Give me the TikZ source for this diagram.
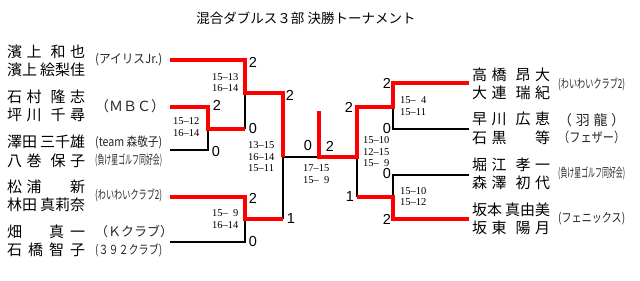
\documentclass[tikz,border=0pt]{standalone}
\usepackage{fontspec}
\usepackage{graphicx}
\setmainfont{Liberation Serif}
\newfontfamily\jfont{Noto Sans CJK JP}
\newfontfamily\numfont{Liberation Sans}
\usetikzlibrary{positioning}

% 選手名（均等割り付け）とチーム名（横に圧縮）
\newcommand{\pn}[1]{\makebox[78pt][s]{#1}}
\newcommand{\tm}[1]{\resizebox{67pt}{\height}{#1}}
\newcommand{\tmsp}[1]{\makebox[67pt][s]{#1}}

\begin{document}
\begin{tikzpicture}[x=1pt, y=-1pt,
    % 選手ペア
    pair/.style={
        anchor=west,
        inner sep=0pt,
        align=left,
        font=\jfont\fontsize{15}{18.5}\selectfont
    },
    % 所属チーム
    team/.style={
        anchor=west,
        inner sep=0pt,
        text=black!85,
        font=\jfont\fontsize{12.5}{12.5}\selectfont
    },
    % スコア
    score/.style={
        anchor=west,
        inner sep=0pt,
        align=left,
        font=\fontsize{10.5}{11.5}\selectfont
    },
    % 勝ちセット数
    result/.style={inner sep=0pt, font=\numfont\fontsize{14.5}{14.5}\selectfont},
    % 線
    win/.style={draw=red, line width=4pt},
    lose/.style={draw=black, line width=1.3pt}
]
\useasboundingbox (0,0) rectangle (640,281);

% タイトル
\node[font=\jfont\fontsize{13.5}{13.5}\selectfont] (title) at (306,18) {混合ダブルス３部 決勝トーナメント};

% 左ブロック
\node[pair] (p1) at (7,61) {\pn{濱\hfill 上\hfill\hfill 和\hfill 也}\\\pn{濱上\hfill 絵梨佳}};
\node[pair] (p2) at (7,106) {\pn{石\hfill 村\hfill\hfill 隆\hfill 志}\\\pn{坪\hfill 川\hfill\hfill 千\hfill 尋}};
\node[pair] (p3) at (7,151.5) {\pn{澤田\hfill 三千雄}\\\pn{八\hfill 巻\hfill\hfill 保\hfill 子}};
\node[pair] (p4) at (7,196) {\pn{松\hfill 浦\hfill\hfill\phantom{新}\hfill 新}\\\pn{林田\hfill 真莉奈}};
\node[pair] (p5) at (7,241) {\pn{畑\hfill\phantom{橋}\hfill 真\hfill 一}\\\pn{石\hfill 橋\hfill 智\hfill 子}};

\node[team] (t1) at (95,60) {\tm{(アイリスJr.)}};
\node[team, font=\jfont\fontsize{14}{14}\selectfont] (t2) at (95,106) {\tmsp{（\hfill ＭＢＣ\hfill ）}};
\node[team] (t3a) at (95,142) {\tm{(team 森敬子)}};
\node[team] (t3b) at (95,160) {\tm{(負け星ゴルフ同好会)}};
\node[team] (t4) at (95,195) {\tm{(わいわいクラブ2)}};
\node[team, font=\jfont\fontsize{13}{13}\selectfont] (t5a) at (95,232) {\tmsp{（\hfill Ｋ\hfill クラブ\hfill ）}};
\node[team] (t5b) at (95,250) {\tm{(３９２クラブ)}};

% 右ブロック
\node[pair] (p6) at (472,84) {\pn{高\hfill 橋\hfill\hfill 昂\hfill 大}\\\pn{大\hfill 連\hfill\hfill 瑞\hfill 紀}};
\node[pair] (p7) at (472,128.5) {\pn{早\hfill 川\hfill\hfill 広\hfill 恵}\\\pn{石\hfill 黒\hfill\hfill\phantom{黒}\hfill 等}};
\node[pair] (p8) at (472,174) {\pn{堀\hfill 江\hfill\hfill 孝\hfill 一}\\\pn{森\hfill 澤\hfill\hfill 初\hfill 代}};
\node[pair] (p9) at (472,219) {\pn{坂本\hfill 真由美}\\\pn{坂\hfill 東\hfill\hfill 陽\hfill 月}};

\node[team] (t6) at (558,84) {\tm{(わいわいクラブ2)}};
\node[team, font=\jfont\fontsize{14}{14}\selectfont] (t7a) at (558,120) {\tmsp{（\hfill 羽\hfill 龍\hfill ）}};
\node[team, font=\jfont\fontsize{13.5}{13.5}\selectfont] (t7b) at (558,137) {\tm{（フェザー）}};
\node[team] (t8) at (558,173) {\tm{(負け星ゴルフ同好会)}};
\node[team] (t9) at (558,219) {\tm{(フェニックス)}};

% 線の端と分岐点
\coordinate (a1) at (170,60);
\coordinate (a2) at (170,107);
\coordinate (a3) at (170,150);
\coordinate (a4) at (170,197);
\coordinate (a5) at (170,242);
\coordinate (q23) at (208,129);
\coordinate (q1) at (245,93);
\coordinate (q45) at (245,219);
\coordinate (sL) at (283,157);
\coordinate (fin) at (319,157);
\coordinate (champ) at (319,111);
\coordinate (sR) at (357,157);
\coordinate (r12) at (393,107);
\coordinate (r34) at (393,197);
\coordinate (b1) at (469,83);
\coordinate (b2) at (469,129);
\coordinate (b3) at (469,175);
\coordinate (b4) at (469,219);

% 負け側（黒）
\draw[lose] (a3) -| (q23);
\draw[lose] (a5) -| (q45);
\draw[lose] (q1) -- (q1 |- q23);
\draw[lose] (sL) -- (sL |- q45);
\draw[lose] (sL) -- (fin);
\draw[lose] (sR) -- (sR |- r34);
\draw[lose] (b2) -| (r12);
\draw[lose] (b3) -| (r34);

% 勝ち上がり（赤）
\draw[win] (a2) -| (q23) -- (q1 |- q23);
\draw[win] (a1) -| (q1) -- (sL |- q1) -- (sL);
\draw[win] (a4) -| (q45) -- (sL |- q45);
\draw[win] (b4) -| (r34) -- (sR |- r34);
\draw[win] (b1) -| (r12) -- (sR |- r12) -- (sR) -- (fin) -- (champ);

% 勝ちセット数
\node[result] (n1) at (253,62) {2};
\node[result] (n2) at (217,105) {2};
\node[result] (n3) at (216,152) {0};
\node[result] (n4) at (253,129) {0};
\node[result] (n5) at (290,95) {2};
\node[result] (n6) at (253,198) {2};
\node[result] (n7) at (253,242) {0};
\node[result] (n8) at (291,219) {1};
\node[result] (n9) at (308,146) {0};
\node[result] (n10) at (330,146) {2};
\node[result] (n11) at (349,107) {2};
\node[result] (n12) at (350,197) {1};
\node[result] (n13) at (387,83) {2};
\node[result] (n14) at (387,129) {0};
\node[result] (n15) at (387,174) {0};
\node[result] (n16) at (387,219) {2};

% スコア
\node[score] (s1) at (212,82.5) {15–13\\16–14};
\node[score] (s23) at (173,127) {15–12\\16–14};
\node[score] (s45) at (212,219) {15–\phantom{1}9\\16–14};
\node[score] (sl) at (248,157) {13–15\\16–14\\15–11};
\node[score] (sf) at (303,174) {17–15\\15–\phantom{1}9};
\node[score] (sr) at (363,152) {15–10\\12–15\\15–\phantom{1}9};
\node[score] (sr12) at (400,106) {15–\phantom{1}4\\15–11};
\node[score] (sr34) at (400,196.5) {15–10\\15–12};

\end{tikzpicture}
\end{document}
